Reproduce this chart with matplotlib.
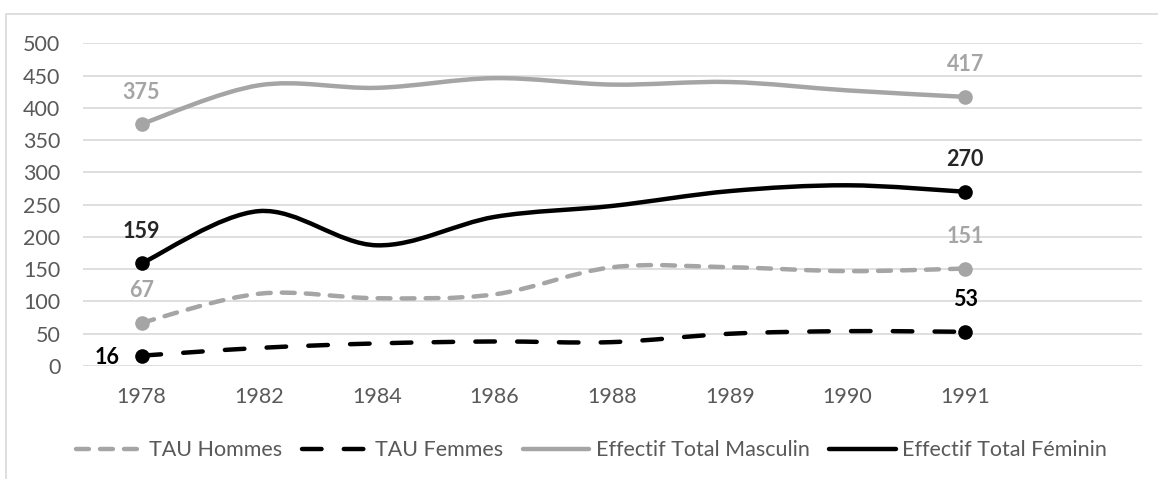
import numpy as np
import matplotlib.pyplot as plt
from matplotlib.path import Path
from matplotlib.patches import PathPatch, Rectangle
from matplotlib.lines import Line2D

plt.rcParams['font.family'] = ['Lato', 'DejaVu Sans']

# Données
annees = ['1978', '1982', '1984', '1986', '1988', '1989', '1990', '1991']
tau_hommes = [67, 112, 105, 111, 153, 153, 147, 151]
tau_femmes = [16, 28, 35, 38, 37, 50, 54, 53]
total_masc = [375, 435, 431, 446, 436, 440, 427, 417]
total_fem = [159, 240, 187, 231, 248, 271, 280, 270]

GRIS = '#A5A5A5'
NOIR = '#000000'
TXT = '#595959'
FS = 15.5


def courbe_lissee(x, y):
    # Bezier façon Excel (ligne lissée)
    p = np.column_stack([x, y]).astype(float)
    pp = np.vstack([p[0], p, p[-1]])
    verts = [p[0]]
    codes = [Path.MOVETO]
    for i in range(len(p) - 1):
        c1 = pp[i + 1] + (pp[i + 2] - pp[i]) / 6
        c2 = pp[i + 2] - (pp[i + 3] - pp[i + 1]) / 6
        verts += [c1, c2, pp[i + 2]]
        codes += [Path.CURVE4] * 3
    return Path(verts, codes)


series = [
    (tau_hommes, 'TAU Hommes', GRIS, (0, (2.9, 2.5)), GRIS, 'top'),
    (tau_femmes, 'TAU Femmes', NOIR, (0, (4.4, 5.0)), NOIR, 'left'),
    (total_masc, 'Effectif Total Masculin', GRIS, '-', GRIS, 'top'),
    (total_fem, 'Effectif Total Féminin', NOIR, '-', '#262626', 'top'),
]

fig = plt.figure(figsize=(11.58, 4.79), dpi=100)
ax = fig.add_axes([0.0714, 0.2359, 0.9145, 0.6737])

x = np.arange(len(annees))
lw = 3.2
handles = []
for vals, nom, coul, ls, coul_lab, pos in series:
    patch = PathPatch(courbe_lissee(x, vals), fill=False, edgecolor=coul,
                      linewidth=lw, linestyle=ls, capstyle='round',
                      joinstyle='round', zorder=3)
    ax.add_patch(patch)
    # marqueurs et étiquettes aux extrémités
    for i in (0, len(vals) - 1):
        ax.plot(x[i], vals[i], 'o', color=coul, markersize=9.5, zorder=4)
        if pos == 'left' and i == 0:
            ax.annotate(str(vals[i]), (x[i], vals[i]), xytext=(-25, -1),
                        textcoords='offset points', ha='center', va='center',
                        fontsize=FS, fontweight='bold', color=coul_lab)
        else:
            ax.annotate(str(vals[i]), (x[i], vals[i]), xytext=(0, 23),
                        textcoords='offset points', ha='center', va='center',
                        fontsize=FS, fontweight='bold', color=coul_lab)
    h = Line2D([], [], color=coul, linewidth=lw, linestyle=ls,
               solid_capstyle='round', dash_capstyle='round')
    handles.append(h)

ax.set_xlim(-0.5, 8.5)
ax.set_ylim(0, 500)
ax.set_xticks(x)
ax.set_xticklabels(annees)
ax.set_yticks(np.arange(0, 501, 50))
ax.tick_params(axis='both', length=0, labelsize=FS, colors=TXT)
ax.tick_params(axis='y', pad=16)
ax.tick_params(axis='x', pad=15)
ax.grid(axis='y', color='#D9D9D9', linewidth=1.2, zorder=0)
ax.set_axisbelow(True)
for s in ax.spines.values():
    s.set_visible(False)

leg = fig.legend(handles=handles, labels=[s[1] for s in series],
                 loc='center', bbox_to_anchor=(0.511, 0.06), ncol=4,
                 frameon=False, fontsize=FS, handlelength=3.1,
                 handletextpad=0.3, columnspacing=0.9, labelcolor=TXT)

# cadre du graphique
fig.add_artist(Rectangle((6 / 1158, -0.1), 1.2, 1 - 14 / 479 + 0.1,
                         transform=fig.transFigure, fill=False,
                         edgecolor='#D9D9D9', linewidth=1.2))

fig.savefig('out.png', dpi=100)
